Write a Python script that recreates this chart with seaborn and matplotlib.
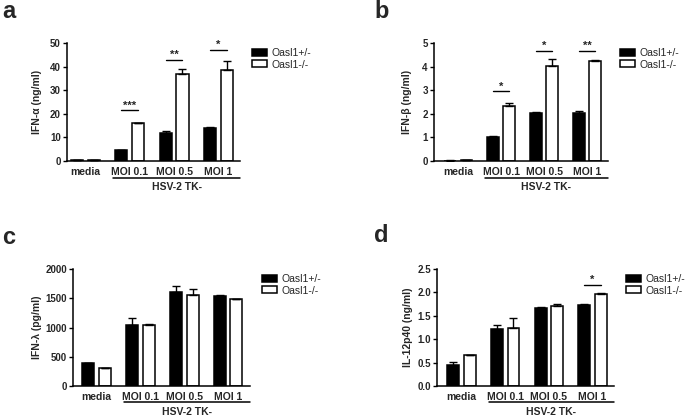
import numpy as np
import pandas as pd
import matplotlib
matplotlib.use("Agg")
import matplotlib.pyplot as plt
import seaborn as sns
from matplotlib.patches import Patch
import matplotlib.transforms as mtransforms

sns.set_theme(style="ticks")
plt.rcParams['font.family'] = ['Liberation Sans', 'DejaVu Sans']

categories = ["media", "MOI 0.1", "MOI 0.5", "MOI 1"]
groups = ["Oasl1+/-", "Oasl1-/-"]
group_label = "HSV-2 TK-"

# Panel a: IFN-alpha (ng/ml)
a_het = [0.5, 4.5, 12.0, 14.0]
a_het_err = [0.1, 0.2, 0.6, 0.2]
a_ko = [0.5, 16.0, 37.0, 38.5]
a_ko_err = [0.1, 0.2, 1.8, 4.0]
a_sig = ["", "***", "**", "*"]
a_sig_y = [None, 21.4, 42.9, 46.9]

# Panel b: IFN-beta (ng/ml)
b_het = [0.02, 1.02, 2.03, 2.05]
b_het_err = [0.01, 0.02, 0.03, 0.08]
b_ko = [0.04, 2.32, 4.03, 4.22]
b_ko_err = [0.01, 0.12, 0.28, 0.04]
b_sig = ["", "*", "*", "**"]
b_sig_y = [None, 2.95, 4.67, 4.67]

# Panel c: IFN-lambda (pg/ml)
c_het = [390, 1050, 1610, 1535]
c_het_err = [5, 110, 100, 25]
c_ko = [300, 1035, 1560, 1485]
c_ko_err = [12, 25, 90, 10]
c_sig = ["", "", "", ""]
c_sig_y = [None, None, None, None]

# Panel d: IL-12p40 (ng/ml)
d_het = [0.45, 1.22, 1.67, 1.74]
d_het_err = [0.06, 0.09, 0.02, 0.01]
d_ko = [0.66, 1.24, 1.72, 1.97]
d_ko_err = [0.01, 0.21, 0.04, 0.01]
d_sig = ["", "", "", "*"]
d_sig_y = [None, None, None, 2.16]

panels = [
    dict(letter="a", ylabel="IFN-\u03b1 (ng/ml)", het=a_het, het_err=a_het_err, ko=a_ko, ko_err=a_ko_err,
         sig=a_sig, sig_y=a_sig_y, yticks=[0, 10, 20, 30, 40, 50], fmt="{:g}",
         rect=[67/685, 1-161/416, 173/685, 118/416], xlim=(-0.42, 3.49), ylab_x=-0.145,
         letter_xy=(2/685, 1-12/416)),
    dict(letter="b", ylabel="IFN-\u03b2 (ng/ml)", het=b_het, het_err=b_het_err, ko=b_ko, ko_err=b_ko_err,
         sig=b_sig, sig_y=b_sig_y, yticks=[0, 1, 2, 3, 4, 5], fmt="{:g}",
         rect=[434/685, 1-161/416, 174/685, 118/416], xlim=(-0.565, 3.49), ylab_x=-0.126,
         letter_xy=(374/685, 1-12/416)),
    dict(letter="c", ylabel="IFN-\u03bb (pg/ml)", het=c_het, het_err=c_het_err, ko=c_ko, ko_err=c_ko_err,
         sig=c_sig, sig_y=c_sig_y, yticks=[0, 500, 1000, 1500, 2000], fmt="{:g}",
         rect=[73/685, 1-386/416, 177/685, 117/416], xlim=(-0.54, 3.5), ylab_x=-0.175,
         letter_xy=(2/685, 1-238/416)),
    dict(letter="d", ylabel="IL-12p40 (ng/ml)", het=d_het, het_err=d_het_err, ko=d_ko, ko_err=d_ko_err,
         sig=d_sig, sig_y=d_sig_y, yticks=[0, 0.5, 1.0, 1.5, 2.0, 2.5], fmt="{:.1f}",
         rect=[437/685, 1-386/416, 177/685, 117/416], xlim=(-0.56, 3.49), ylab_x=-0.136,
         letter_xy=(374/685, 1-236/416)),
]

fig = plt.figure(figsize=(6.85, 4.16), dpi=100)
palette = {groups[0]: "black", groups[1]: "white"}

for p in panels:
    ax = fig.add_axes(p["rect"])
    df = pd.DataFrame({
        "cat": categories * 2,
        "grp": [groups[0]] * 4 + [groups[1]] * 4,
        "val": list(p["het"]) + list(p["ko"]),
    })
    sns.barplot(data=df, x="cat", y="val", hue="grp", order=categories, hue_order=groups,
                palette=palette, edgecolor="black", linewidth=1.1, width=0.76, gap=0.28,
                errorbar=None, legend=False, ax=ax)
    errs = [p["het_err"], p["ko_err"]]
    for cont, err in zip(ax.containers, errs):
        xs = [b.get_x() + b.get_width()/2 for b in cont]
        hs = [b.get_height() for b in cont]
        ax.errorbar(xs, hs, yerr=[np.zeros(len(err)), err], fmt="none", ecolor="black",
                    elinewidth=1.0, capsize=2.6, capthick=1.0, zorder=1)
    ax.set_ylim(p["yticks"][0], p["yticks"][-1])
    ax.set_xlim(*p["xlim"])
    ax.set_yticks(p["yticks"])
    ax.set_yticklabels([p["fmt"].format(t) for t in p["yticks"]], fontsize=7, fontweight="bold")
    ax.set_xticks(range(len(categories)))
    ax.set_xticklabels(categories, fontsize=7.5, fontweight="bold")
    ax.tick_params(axis="x", length=0, pad=4)
    ax.tick_params(axis="y", length=3, width=1.0, pad=1.5, color="black")
    ax.set_xlabel("")
    ax.set_ylabel(p["ylabel"], fontsize=7.5, fontweight="bold")
    ax.yaxis.set_label_coords(p["ylab_x"], 0.5)
    for s in ["top", "right"]:
        ax.spines[s].set_visible(False)
    for s in ["left", "bottom"]:
        ax.spines[s].set_linewidth(1.1)
        ax.spines[s].set_color("black")

    # significance
    for i, (s, y) in enumerate(zip(p["sig"], p["sig_y"])):
        if s:
            ax.plot([i - 0.19, i + 0.19], [y, y], color="black", lw=1.0, clip_on=False)
            ax.text(i, y, s, ha="center", va="bottom", fontsize=8, fontweight="bold")

    # HSV-2 TK- bracket
    trans = mtransforms.blended_transform_factory(ax.transData, ax.transAxes)
    ax.plot([0.62, p["xlim"][1]], [-0.14, -0.14], color="black", lw=1.1, transform=trans, clip_on=False)
    ax.text((0.62 + p["xlim"][1]) / 2, -0.22, group_label, transform=trans, ha="center", va="center",
            fontsize=7.5, fontweight="bold")

    handles = [Patch(facecolor="black", edgecolor="black", linewidth=1.1),
               Patch(facecolor="white", edgecolor="black", linewidth=1.1)]
    ax.legend(handles, groups, loc="upper left", bbox_to_anchor=(1.07, 0.955), frameon=False,
              fontsize=7.5, handlelength=1.45, handleheight=0.68, handletextpad=0.4,
              labelspacing=0.12, borderpad=0, borderaxespad=0)

    fig.text(p["letter_xy"][0], p["letter_xy"][1], p["letter"], fontsize=17, fontweight="bold",
             ha="left", va="center")

fig.savefig("out.png", dpi=100)
